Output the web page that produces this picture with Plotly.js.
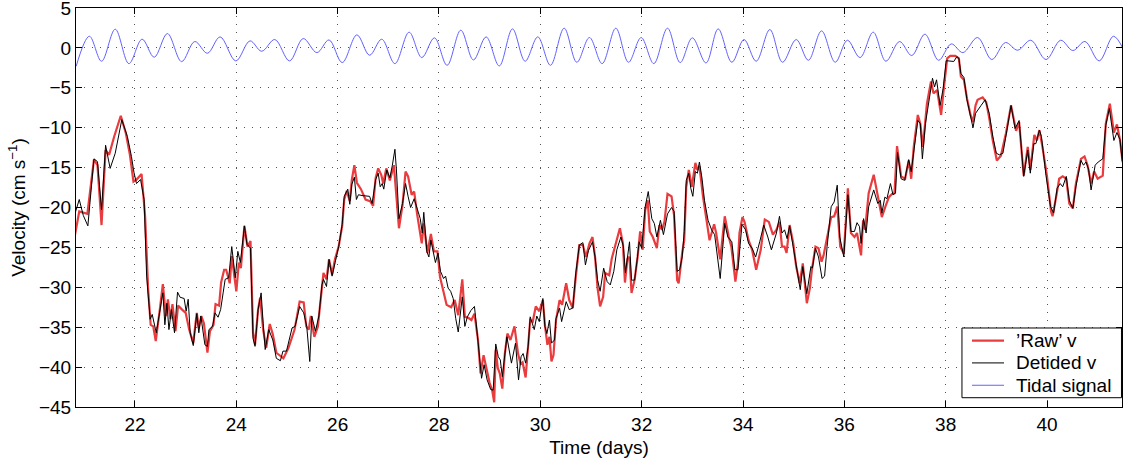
<!DOCTYPE html>
<html>
<head>
<meta charset="utf-8">
<script src="https://cdn.plot.ly/plotly-3.0.1.min.js"></script>
<style>
  html, body { margin: 0; padding: 0; background: #fff; }
  #chart { width: 1123px; height: 463px; }
</style>
</head>
<body>
<div id="chart"></div>
<script>
// Current meter record: raw velocity, velocity with the tide removed, and the tidal signal (cm/s vs days)
const rawTime = [20.80,20.90,21.06,21.19,21.26,21.34,21.42,21.49,21.59,21.72,21.82,21.90,21.97,22.03,22.13,22.20,22.26,22.31,22.36,22.41,22.49,22.55,22.61,22.65,22.70,22.74,22.80,22.85,22.93,23.00,23.07,23.15,23.22,23.26,23.31,23.36,23.43,23.48,23.55,23.59,23.66,23.70,23.76,23.80,23.87,23.91,24.00,24.05,24.09,24.16,24.22,24.28,24.33,24.37,24.43,24.47,24.53,24.59,24.66,24.72,24.79,24.86,24.93,25.03,25.15,25.25,25.33,25.38,25.43,25.47,25.54,25.61,25.67,25.72,25.78,25.83,25.89,25.95,26.02,26.09,26.13,26.18,26.24,26.28,26.33,26.38,26.46,26.55,26.64,26.70,26.75,26.80,26.86,26.90,26.96,27.03,27.11,27.21,27.28,27.34,27.39,27.46,27.51,27.57,27.66,27.70,27.77,27.84,27.90,27.97,28.02,28.09,28.15,28.24,28.31,28.38,28.46,28.51,28.57,28.64,28.70,28.77,28.82,28.88,28.93,29.00,29.05,29.09,29.12,29.16,29.20,29.25,29.30,29.35,29.41,29.49,29.56,29.61,29.65,29.71,29.80,29.85,29.91,29.98,30.05,30.09,30.14,30.18,30.22,30.26,30.31,30.38,30.43,30.51,30.57,30.64,30.70,30.77,30.84,30.90,30.97,31.03,31.08,31.13,31.18,31.24,31.28,31.36,31.41,31.49,31.57,31.63,31.67,31.72,31.76,31.80,31.86,31.92,31.97,32.02,32.07,32.12,32.16,32.22,32.30,32.35,32.40,32.45,32.51,32.59,32.64,32.70,32.73,32.80,32.84,32.88,32.93,32.99,33.06,33.10,33.14,33.21,33.28,33.34,33.43,33.47,33.55,33.64,33.72,33.77,33.85,33.90,33.93,33.99,34.03,34.11,34.18,34.26,34.35,34.43,34.51,34.59,34.66,34.72,34.77,34.82,34.86,34.92,34.99,35.05,35.12,35.18,35.26,35.32,35.36,35.43,35.49,35.55,35.59,35.66,35.74,35.80,35.86,35.92,35.99,36.07,36.13,36.20,36.25,36.33,36.37,36.41,36.48,36.58,36.66,36.74,36.81,36.88,36.94,36.99,37.04,37.12,37.20,37.27,37.32,37.37,37.45,37.50,37.55,37.63,37.71,37.76,37.83,37.91,37.96,38.03,38.09,38.19,38.26,38.30,38.36,38.42,38.49,38.54,38.59,38.63,38.73,38.80,38.86,38.93,39.01,39.09,39.19,39.29,39.39,39.45,39.54,39.62,39.67,39.75,39.80,39.85,39.91,40.00,40.08,40.11,40.18,40.24,40.31,40.38,40.44,40.51,40.57,40.67,40.74,40.80,40.87,40.93,41.00,41.10,41.16,41.24,41.32,41.38,41.44,41.49];
const rawV = [-24.0,-20.5,-20.8,-14.0,-14.7,-22.2,-12.8,-13.4,-11.1,-8.5,-10.7,-13.4,-16.75,-16.5,-15.8,-21.1,-30.3,-34.7,-34.9,-36.75,-32.8,-29.6,-33.6,-31.5,-34.0,-32.1,-35.5,-32.3,-32.8,-33.2,-35.3,-37.0,-33.2,-35.1,-33.6,-34.5,-38.2,-35.5,-34.7,-32.1,-32.3,-29.4,-27.8,-27.8,-29.5,-26.1,-30.5,-26.9,-27.6,-22.3,-24.9,-24.2,-35.7,-37.2,-32.8,-31.3,-35.3,-37.6,-34.6,-35.9,-38.2,-38.6,-38.9,-37.6,-35.3,-31.8,-31.9,-34.9,-35.3,-33.6,-36.2,-34.9,-31.5,-28.2,-29.0,-26.5,-28.4,-26.4,-24.9,-22.3,-19.0,-17.9,-19.2,-16.5,-14.7,-16.9,-17.7,-19.0,-19.2,-19.8,-16.3,-15.1,-15.9,-17.0,-15.1,-16.6,-14.7,-22.6,-19.7,-15.5,-16.1,-18.4,-18.0,-20.9,-24.5,-22.0,-25.7,-23.3,-25.5,-25.5,-28.7,-30.7,-32.2,-32.5,-31.6,-33.5,-29.0,-33.7,-33.8,-34.1,-33.3,-36.6,-40.8,-38.5,-39.9,-42.0,-42.9,-44.4,-37.8,-40.1,-40.8,-42.7,-38.3,-35.8,-36.6,-34.9,-38.3,-39.6,-39.4,-41.3,-34.1,-34.3,-32.4,-33.0,-31.6,-34.7,-37.2,-36.2,-39.3,-38.5,-34.1,-31.6,-32.2,-29.5,-31.6,-32.6,-28.7,-24.7,-24.7,-26.2,-24.5,-23.7,-26.2,-30.1,-32.4,-31.2,-28.2,-28.5,-26.4,-24.5,-22.6,-24.5,-29.4,-26.4,-26.2,-30.7,-29.1,-26.2,-23.0,-25.3,-20.3,-19.1,-23.0,-23.7,-25.1,-22.2,-22.8,-21.8,-18.3,-18.6,-21.0,-29.1,-29.5,-25.7,-24.1,-17.4,-15.3,-17.4,-14.4,-15.3,-14.8,-18.6,-21.4,-24.1,-22.1,-23.2,-26.5,-21.1,-23.7,-24.9,-29.3,-27.0,-23.2,-21.2,-21.8,-24.1,-25.3,-27.8,-25.3,-21.5,-21.8,-23.4,-22.8,-21.8,-24.9,-24.9,-25.7,-22.2,-24.4,-27.4,-29.5,-27.0,-32.0,-30.1,-27.8,-24.9,-25.1,-26.8,-26.0,-23.7,-21.2,-21.1,-19.9,-24.9,-25.8,-17.6,-23.2,-23.7,-23.2,-26.0,-21.6,-22.8,-18.2,-15.9,-18.7,-21.2,-19.9,-18.7,-18.3,-18.2,-12.3,-16.1,-16.4,-14.1,-16.4,-12.4,-8.4,-9.5,-12.4,-7.0,-4.2,-5.7,-5.3,-8.4,-5.3,-1.3,-1.0,-1.0,-1.3,-3.6,-4.0,-6.3,-8.4,-9.3,-7.2,-6.5,-6.2,-6.8,-8.8,-11.6,-14.1,-13.5,-10.7,-7.2,-10.4,-9.3,-16.0,-12.4,-15.3,-10.9,-11.6,-10.3,-12.4,-16.1,-20.5,-21.1,-18.7,-16.4,-16.1,-16.4,-19.5,-20.1,-17.0,-13.9,-13.6,-14.7,-17.0,-15.5,-16.4,-16.0,-9.5,-7.0,-10.6,-9.6,-11.5,-14.2];

const detidedTime = [20.80,20.90,20.98,21.07,21.19,21.26,21.34,21.42,21.51,21.61,21.74,21.85,21.93,21.98,22.03,22.11,22.18,22.23,22.30,22.34,22.42,22.49,22.55,22.59,22.63,22.67,22.72,22.78,22.84,22.89,22.97,23.01,23.05,23.09,23.15,23.22,23.26,23.30,23.38,23.43,23.46,23.53,23.58,23.64,23.69,23.74,23.78,23.85,23.91,23.98,24.03,24.08,24.16,24.21,24.28,24.33,24.37,24.43,24.49,24.53,24.57,24.64,24.72,24.79,24.87,24.92,24.99,25.10,25.16,25.25,25.33,25.39,25.45,25.49,25.56,25.63,25.69,25.72,25.78,25.83,25.89,25.95,26.02,26.09,26.13,26.20,26.24,26.28,26.33,26.37,26.41,26.48,26.57,26.63,26.68,26.75,26.80,26.84,26.88,26.91,26.97,27.03,27.08,27.13,27.16,27.21,27.28,27.34,27.39,27.44,27.51,27.57,27.63,27.67,27.70,27.76,27.80,27.84,27.89,27.93,27.98,28.03,28.09,28.13,28.18,28.23,28.28,28.33,28.38,28.46,28.51,28.56,28.63,28.70,28.77,28.84,28.89,28.95,29.02,29.07,29.12,29.17,29.21,29.25,29.34,29.43,29.51,29.57,29.62,29.66,29.71,29.76,29.80,29.88,29.93,29.98,30.05,30.09,30.13,30.18,30.22,30.28,30.31,30.38,30.42,30.51,30.57,30.64,30.70,30.77,30.84,30.89,30.95,31.03,31.08,31.13,31.18,31.25,31.32,31.38,31.45,31.51,31.59,31.64,31.68,31.76,31.80,31.86,31.91,31.95,32.00,32.07,32.13,32.20,32.25,32.30,32.37,32.43,32.51,32.59,32.64,32.70,32.75,32.80,32.84,32.88,32.93,32.97,33.01,33.06,33.10,33.14,33.19,33.24,33.31,33.38,33.44,33.49,33.55,33.64,33.70,33.78,33.84,33.90,33.98,34.05,34.11,34.18,34.25,34.33,34.41,34.49,34.56,34.66,34.72,34.77,34.82,34.87,34.92,34.99,35.05,35.13,35.18,35.26,35.34,35.37,35.43,35.49,35.56,35.61,35.66,35.74,35.80,35.86,35.91,35.99,36.07,36.13,36.20,36.25,36.30,36.33,36.38,36.43,36.48,36.58,36.66,36.71,36.74,36.80,36.84,36.91,36.96,37.01,37.05,37.12,37.19,37.27,37.32,37.37,37.45,37.50,37.54,37.60,37.68,37.74,37.78,37.82,37.89,37.95,38.01,38.09,38.16,38.22,38.26,38.30,38.36,38.42,38.49,38.54,38.59,38.63,38.70,38.78,38.86,38.93,39.00,39.06,39.13,39.21,39.29,39.37,39.45,39.54,39.62,39.67,39.74,39.78,39.85,39.89,39.98,40.07,40.13,40.20,40.26,40.31,40.38,40.44,40.51,40.57,40.67,40.72,40.77,40.82,40.87,40.95,41.01,41.10,41.16,41.23,41.32,41.38,41.44,41.49];
const detidedV = [-21.1,-19.0,-21.0,-22.3,-13.9,-14.25,-20.3,-12.2,-15.1,-13.2,-9.0,-11.1,-13.6,-15.6,-17.0,-16.5,-19.0,-28.6,-34.0,-33.4,-35.7,-32.8,-30.7,-34.7,-32.0,-35.3,-32.8,-35.7,-30.6,-31.25,-31.4,-33.0,-31.5,-35.7,-37.3,-33.3,-35.7,-33.6,-37.2,-37.4,-35.3,-34.9,-33.2,-33.75,-32.8,-30.7,-29.0,-28.8,-24.9,-28.8,-25.5,-26.9,-22.3,-24.6,-25.1,-36.4,-37.4,-32.8,-30.7,-34.5,-37.8,-35.3,-36.6,-38.9,-39.2,-38.0,-38.0,-35.1,-34.9,-32.4,-33.2,-34.9,-39.3,-33.6,-35.5,-33.6,-29.7,-29.0,-29.9,-26.5,-28.6,-26.9,-24.9,-22.1,-18.6,-17.7,-19.6,-17.1,-16.2,-19.0,-18.4,-18.5,-18.6,-18.6,-19.5,-16.5,-15.7,-17.4,-17.0,-17.7,-15.3,-16.3,-14.7,-12.7,-15.3,-21.4,-19.5,-17.0,-18.6,-20.0,-18.9,-20.3,-21.4,-23.2,-20.6,-25.5,-26.2,-24.1,-25.7,-26.9,-25.7,-28.0,-28.9,-28.6,-30.1,-30.5,-31.4,-33.9,-35.6,-31.2,-34.9,-33.7,-32.9,-32.4,-36.8,-41.4,-39.7,-41.6,-42.8,-42.9,-37.1,-38.7,-39.1,-41.2,-36.2,-39.5,-37.0,-41.6,-38.7,-38.3,-39.5,-37.4,-33.7,-35.3,-33.6,-34.3,-31.4,-34.9,-35.8,-34.1,-37.0,-36.6,-33.9,-32.6,-34.3,-31.8,-32.8,-32.6,-28.2,-24.7,-24.4,-27.2,-25.4,-24.3,-26.2,-29.1,-30.5,-27.6,-29.3,-29.7,-28.0,-25.3,-23.7,-24.9,-28.2,-24.3,-29.1,-29.1,-26.6,-24.3,-25.1,-19.9,-18.0,-21.4,-22.0,-23.7,-21.6,-23.4,-20.8,-20.0,-20.5,-28.0,-27.8,-26.2,-23.0,-16.6,-15.7,-17.6,-18.6,-15.5,-15.7,-14.3,-16.3,-19.1,-21.6,-22.8,-23.4,-26.0,-28.9,-22.0,-23.7,-24.3,-27.8,-27.8,-22.1,-22.8,-24.5,-25.1,-26.2,-24.3,-22.2,-23.7,-25.3,-23.2,-21.1,-23.2,-22.8,-23.9,-22.3,-24.9,-27.4,-30.3,-27.4,-30.8,-27.4,-27.6,-25.1,-26.2,-28.9,-28.6,-24.9,-19.9,-19.3,-17.2,-23.7,-26.2,-18.4,-23.0,-23.0,-21.9,-22.4,-24.5,-21.4,-23.2,-19.9,-17.8,-19.5,-19.1,-20.7,-18.7,-18.9,-17.0,-18.4,-18.2,-13.1,-16.4,-16.6,-14.0,-15.5,-12.8,-9.1,-9.5,-13.9,-9.5,-6.1,-3.8,-4.9,-4.0,-7.2,-5.1,-1.6,-1.7,-1.7,-1.1,-1.3,-3.2,-3.7,-6.5,-8.8,-10.0,-8.2,-7.8,-7.2,-6.5,-8.2,-11.1,-13.2,-13.4,-13.2,-10.3,-7.2,-10.1,-9.1,-16.1,-12.8,-15.7,-12.0,-12.0,-10.3,-11.1,-16.0,-19.9,-20.7,-17.6,-17.0,-17.4,-16.1,-19.1,-20.1,-17.4,-14.1,-14.7,-14.3,-15.2,-17.8,-14.7,-14.3,-13.9,-9.7,-7.6,-11.6,-10.6,-11.5,-14.5];

// Tidal signal: successive highs and lows of the fitted tide
const tideTime = [20.84,21.10,21.34,21.61,21.88,22.14,22.38,22.64,22.92,23.18,23.43,23.68,23.99,24.27,24.50,24.76,25.05,25.32,25.59,25.83,26.09,26.38,26.63,26.87,27.13,27.41,27.66,27.91,28.16,28.43,28.68,28.93,29.19,29.45,29.70,29.95,30.20,30.47,30.72,30.97,31.22,31.49,31.74,31.99,32.24,32.51,32.76,33.00,33.27,33.51,33.78,34.02,34.26,34.53,34.78,35.05,35.29,35.55,35.82,36.06,36.31,36.57,36.82,37.09,37.33,37.59,37.86,38.11,38.34,38.63,38.91,39.18,39.42,39.68,39.98,40.27,40.51,40.75,41.03,41.31,41.50];
const tideV = [-2.3,1.46,-1.67,2.34,-1.97,1.09,-1.17,1.8,-1.72,0.8,-0.67,1.38,-1.63,0.88,-0.42,1.05,-1.63,1.17,-0.59,1.0,-1.84,1.63,-0.92,1.09,-1.97,1.97,-1.21,1.26,-2.18,2.22,-1.51,1.38,-2.26,2.38,-1.67,1.38,-2.18,2.47,-1.8,1.3,-1.97,2.47,-1.8,1.3,-1.97,2.47,-1.84,1.26,-1.88,2.38,-1.8,1.05,-1.67,2.3,-1.8,1.05,-1.55,2.13,-1.8,0.96,-1.21,1.97,-1.67,0.8,-0.96,1.72,-1.55,0.5,-0.59,1.3,-1.46,0.67,-0.29,0.96,-1.46,0.96,-0.33,0.8,-1.63,1.46,-0.08];

const xTicks = [22, 24, 26, 28, 30, 32, 34, 36, 38, 40];
const yTicks = [-45, -40, -35, -30, -25, -20, -15, -10, -5, 0, 5];

const FONT = 'Liberation Sans, Arial, Helvetica, sans-serif';

const traces = [
  {
    x: rawTime, y: rawV, name: '’Raw’ v', type: 'scatter', mode: 'lines',
    line: { color: 'rgb(232,60,62)', width: 2.2 }
  },
  {
    x: detidedTime, y: detidedV, name: 'Detided v', type: 'scatter', mode: 'lines',
    line: { color: '#000000', width: 1 }
  },
  {
    x: tideTime, y: tideV, name: 'Tidal signal', type: 'scatter', mode: 'lines',
    line: { color: 'rgb(98,98,255)', width: 1, shape: 'spline', smoothing: 1 }
  }
];
traces.forEach(t => { t.showlegend = false; });

// Compact boxed key in the lower-right corner (paper coordinates), built from the traces above
const keyBox = { x0: 0.847, x1: 0.9995, y0: 0.0233, y1: 0.198 };
const keyRows = [0.1665, 0.1105, 0.0545];
const keySample = { x0: 0.8566, x1: 0.8872 };
const keyTextX = 0.8965;

const shapes = [{
  type: 'rect', xref: 'paper', yref: 'paper',
  x0: keyBox.x0, x1: keyBox.x1, y0: keyBox.y0, y1: keyBox.y1,
  line: { color: '#000', width: 1 }, fillcolor: '#fff', layer: 'above'
}];
const annotations = [];
traces.forEach((t, i) => {
  shapes.push({
    type: 'line', xref: 'paper', yref: 'paper',
    x0: keySample.x0, x1: keySample.x1, y0: keyRows[i], y1: keyRows[i],
    line: { color: t.line.color, width: t.line.width }, layer: 'above'
  });
  annotations.push({
    xref: 'paper', yref: 'paper', x: keyTextX, y: keyRows[i],
    xanchor: 'left', yanchor: 'middle', showarrow: false, text: t.name,
    font: { family: FONT, size: 19, color: '#000' }
  });
});

const axisCommon = {
  showline: true, linecolor: '#000', linewidth: 1, mirror: 'ticks',
  ticks: 'inside', ticklen: 6, tickcolor: '#000', tickwidth: 1,
  showgrid: true, gridcolor: '#555', gridwidth: 1, griddash: '1px,7px',
  zeroline: false, ticklabeloverflow: 'allow',
  tickfont: { family: FONT, size: 19, color: '#000' }
};

const layout = {
  width: 1123, height: 463,
  margin: { l: 76, r: 1, t: 8, b: 56 },
  paper_bgcolor: '#fff', plot_bgcolor: '#fff',
  font: { family: FONT, size: 19, color: '#000' },
  showlegend: false,
  xaxis: Object.assign({}, axisCommon, {
    range: [20.836, 41.48], tickmode: 'array', tickvals: xTicks,
    title: { text: 'Time (days)', font: { family: FONT, size: 19, color: '#000' }, standoff: 6 }
  }),
  yaxis: Object.assign({}, axisCommon, {
    range: [-45, 5], tickmode: 'array', tickvals: yTicks,
    title: { text: 'Velocity (cm s<sup>−1</sup>)', font: { family: FONT, size: 19, color: '#000' }, standoff: 8 }
  }),
  shapes: shapes,
  annotations: annotations
};

Plotly.newPlot('chart', traces, layout, { displayModeBar: false, staticPlot: true });
</script>
</body>
</html>
